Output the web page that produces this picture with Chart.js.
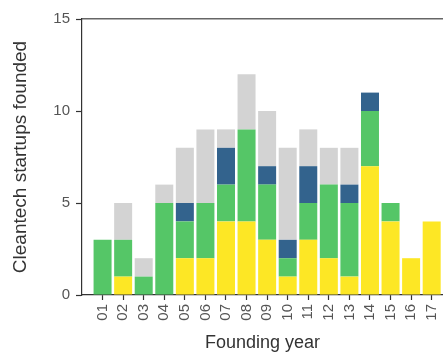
<!DOCTYPE html>
<html>
<head>
<meta charset="utf-8">
<script src="https://cdn.jsdelivr.net/npm/chart.js@4"></script>
<style>
  html, body { margin: 0; padding: 0; background: #fff; }
</style>
</head>
<body>
<canvas id="chart" width="443" height="354"></canvas>
<script>
// data
const years = ["01", "02", "03", "04", "05", "06", "07", "08", "09", "10", "11", "12", "13", "14", "15", "16", "17"];
const yellowVals = [0, 1, 0, 0, 2, 2, 4, 4, 3, 1, 3, 2, 1, 7, 4, 2, 4];
const greenVals  = [3, 2, 1, 5, 2, 3, 2, 5, 3, 1, 2, 4, 4, 3, 1, 0, 0];
const blueVals   = [0, 0, 0, 0, 1, 0, 2, 0, 1, 1, 2, 0, 1, 1, 0, 0, 0];
const grayVals   = [0, 2, 1, 1, 3, 4, 1, 3, 3, 5, 2, 2, 2, 0, 0, 0, 0];
const yTicks = [0, 5, 10, 15];

const FONT = "'Liberation Sans', Arial, Helvetica, sans-serif";

function toPoints(vals) {
    return vals.map((v, i) => ({ x: i + 1, y: v }));
}

function makeSet(vals, color) {
    return {
        data: toPoints(vals),
        backgroundColor: color,
        borderWidth: 0,
        barPercentage: 0.875,
        categoryPercentage: 1
    };
}

const ctx = document.getElementById("chart");
new Chart(ctx, {
    type: "bar",
    data: {
        datasets: [
            makeSet(yellowVals, "#FDE725"),
            makeSet(greenVals, "#55C667"),
            makeSet(blueVals, "#33638D"),
            makeSet(grayVals, "#D3D3D3")
        ]
    },
    options: {
        responsive: false,
        animation: false,
        devicePixelRatio: 1,
        layout: { padding: { top: 19, left: 0, right: 0, bottom: 0 } },
        plugins: { legend: { display: false }, tooltip: { enabled: false } },
        scales: {
            x: {
                type: "linear",
                stacked: true,
                offset: false,
                min: 0,
                max: 17.55,
                afterBuildTicks: s => { s.ticks = years.map((_, i) => ({ value: i + 1 })); },
                afterFit: s => { s.height = 59; s.paddingLeft = 0; s.paddingRight = 0; },
                grid: { display: true, drawOnChartArea: false, offset: false, tickLength: 5, color: "#333", tickWidth: 1.2 },
                border: { display: true, color: "#333", width: 1.2 },
                ticks: {
                    autoSkip: false,
                    minRotation: 90,
                    maxRotation: 90,
                    padding: 4,
                    color: "#555",
                    font: { family: FONT, size: 15 },
                    callback: v => years[v - 1] || ""
                },
                title: {
                    display: true,
                    text: "Founding year",
                    color: "#333",
                    font: { family: FONT, size: 18 },
                    padding: { top: 0, bottom: 0 }
                }
            },
            xTop: {
                type: "linear",
                position: "top",
                min: 0,
                max: 1,
                afterFit: s => { s.height = 0; s.paddingLeft = 0; s.paddingRight = 0; },
                grid: { display: false },
                ticks: { display: false },
                border: { display: true, color: "#666", width: 1.5 }
            },
            y: {
                stacked: true,
                min: 0,
                max: 15,
                afterBuildTicks: s => { s.ticks = yTicks.map(v => ({ value: v })); },
                afterFit: s => { s.width = 82; s.paddingTop = 0; s.paddingBottom = 0; },
                grid: { display: true, drawOnChartArea: false, tickLength: 6, color: "#333", tickWidth: 1.2 },
                border: { display: true, color: "#333", width: 1.2 },
                ticks: {
                    padding: 6,
                    color: "#555",
                    font: { family: FONT, size: 15 }
                },
                title: {
                    display: true,
                    text: "Cleantech startups founded",
                    color: "#333",
                    font: { family: FONT, size: 19 },
                    padding: { top: 9, bottom: 0 }
                }
            }
        }
    }
});
</script>
</body>
</html>
